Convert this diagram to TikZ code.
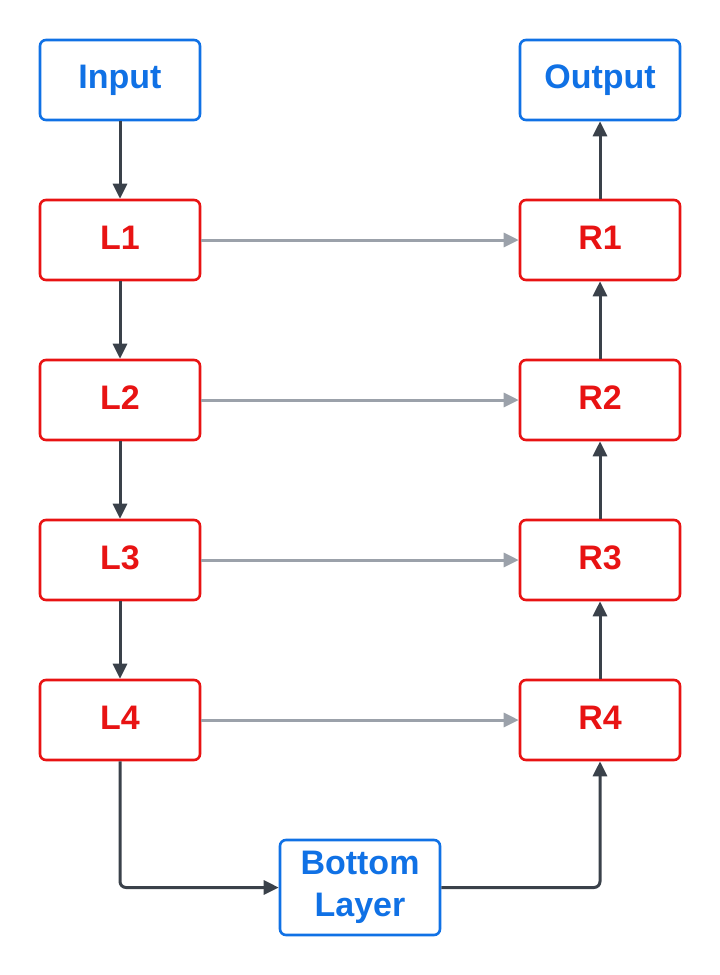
\documentclass[tikz,border=0pt]{standalone}
\usepackage{fontspec}
\setmainfont{Liberation Sans}
\usetikzlibrary{arrows.meta}
\definecolor{cblue}{HTML}{1071E5}
\definecolor{cred}{HTML}{E81313}
\definecolor{cdark}{HTML}{3A414A}
\definecolor{cgray}{HTML}{9BA1AA}
\begin{document}
\begin{tikzpicture}[x=1pt,y=-1pt,
  box/.style={draw, line width=2.6pt, rounded corners=6pt, minimum width=160pt, minimum height=80pt, inner sep=0pt, font=\fontsize{34}{42}\selectfont\bfseries, align=center},
  bluebox/.style={box, draw=cblue, text=cblue},
  redbox/.style={box, draw=cred, text=cred},
  darrow/.style={draw=cdark, line width=3pt, -{Triangle[length=15pt,width=14pt]}, rounded corners=6pt},
  garrow/.style={draw=cgray, line width=3pt, -{Triangle[length=15pt,width=14pt]}}]
\useasboundingbox (0,0) rectangle (720,975);
\newcommand{\up}[1]{\raisebox{4pt}{#1}}
\node[bluebox] (in) at (120,80) {\up{Input}};
\node[bluebox] (out) at (600,80) {\up{Output}};
\node[redbox] (l1) at (120,240) {\up{L1}};
\node[redbox] (l2) at (120,400) {\up{L2}};
\node[redbox] (l3) at (120,560) {\up{L3}};
\node[redbox] (l4) at (120,720) {\up{L4}};
\node[redbox] (r1) at (600,240) {\up{R1}};
\node[redbox] (r2) at (600,400) {\up{R2}};
\node[redbox] (r3) at (600,560) {\up{R3}};
\node[redbox] (r4) at (600,720) {\up{R4}};
\node[bluebox, minimum height=95pt] (bot) at (360,887.5) {\raisebox{4pt}{\begin{tabular}{@{}c@{}}Bottom\\Layer\end{tabular}}};
\draw[darrow] (in) -- (l1);
\draw[darrow] (l1) -- (l2);
\draw[darrow] (l2) -- (l3);
\draw[darrow] (l3) -- (l4);
\draw[darrow] (l4.south) |- (bot.west);
\draw[darrow] (bot.east) -| (r4.south);
\draw[darrow] (r4) -- (r3);
\draw[darrow] (r3) -- (r2);
\draw[darrow] (r2) -- (r1);
\draw[darrow] (r1) -- (out);
\draw[garrow] (l1) -- (r1);
\draw[garrow] (l2) -- (r2);
\draw[garrow] (l3) -- (r3);
\draw[garrow] (l4) -- (r4);
\end{tikzpicture}
\end{document}
